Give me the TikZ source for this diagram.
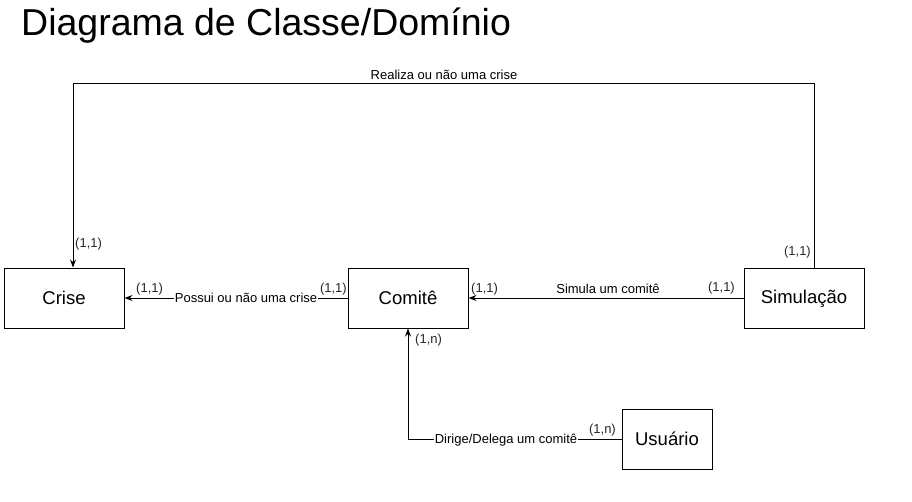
\documentclass[tikz,border=0pt]{standalone}
\usepackage{fontspec}
\setmainfont{Liberation Sans}
\usetikzlibrary{arrows.meta}
\tikzset{
  box/.style={draw, line width=1pt, minimum width=120pt, minimum height=60pt, inner sep=0pt, font=\fontsize{18.5}{22}\selectfont},
  conn/.style={line width=1pt},
  arr/.style={conn, -{Stealth[length=8pt,width=6pt]}},
  lbl/.style={font=\fontsize{13}{15}\selectfont, inner sep=1pt},
  onl/.style={lbl, fill=white},
  card/.style={lbl, text=black!85}
}
\begin{document}
\begin{tikzpicture}[x=1pt,y=-1pt]
\useasboundingbox (0,0) rectangle (912,501);
\node[anchor=base west, inner sep=0pt, font=\fontsize{37.5}{40}\selectfont] (title) at (21,35) {Diagrama de Classe/Domínio};

\node[box] (crise) at (64,298) {Crise};
\node[box] (comite) at (408,298) {Comitê};
\node[box] (sim) at (804,298.5) {Simulação};
\node[box, minimum width=90pt] (usu) at (667,439) {Usuário};

% Realiza ou nao uma crise
\coordinate (tr) at (814,83);
\coordinate (tl) at (73,83);
\draw[arr] ([xshift=10pt]sim.north) -- (tr) -- (tl) -- ([xshift=9pt]crise.north);
\node[lbl, anchor=south] (lrealiza) at (444,81) {Realiza ou não uma crise};

% Possui
\draw[arr] (comite.west) -- (crise.east) node[onl, pos=0.455] (lpossui) {Possui ou não uma crise};

% Simula
\draw[arr] (sim.west |- 0,298) -- (comite.east |- 0,298);
\node[lbl, anchor=south] (lsimula) at (608,295) {Simula um comitê};

% Dirige
\coordinate (bend) at (408,439);
\draw[arr] (usu.west) -- (bend) -- (comite.south);
\node[onl] (ldirige) at (506,440) {Dirige/Delega um comitê};

% cardinalities
\node[card, anchor=west] (c1) at (74,244) {(1,1)};
\node[card, anchor=west] (c2) at (135,289) {(1,1)};
\node[card, anchor=east] (c3) at (348,289) {(1,1)};
\node[card, anchor=west] (c4) at (470,289) {(1,1)};
\node[card, anchor=east] (c5) at (736,288) {(1,1)};
\node[card, anchor=east] (c6) at (812,252) {(1,1)};
\node[card, anchor=west] (c7) at (414,340) {(1,n)};
\node[card, anchor=east] (c8) at (617,430) {(1,n)};
\end{tikzpicture}
\end{document}
